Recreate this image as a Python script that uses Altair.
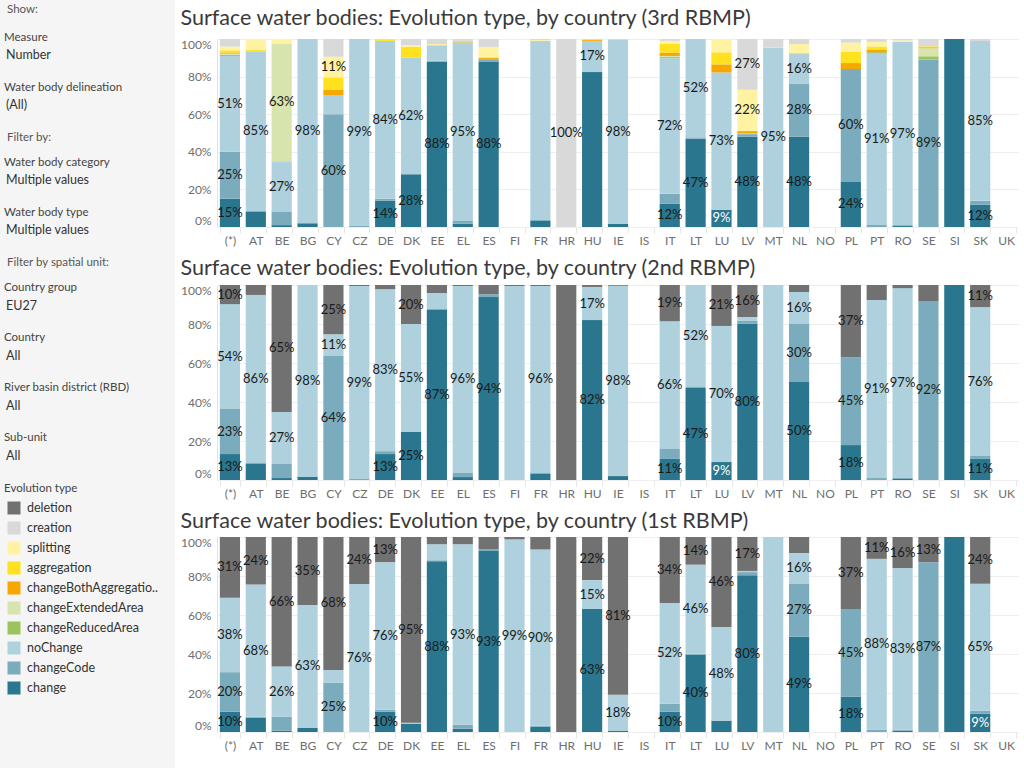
import altair as alt
import pandas as pd

FONT = "Lato"

COUNTRIES = ["(*)", "AT", "BE", "BG", "CY", "CZ", "DE", "DK", "EE", "EL", "ES", "FI", "FR", "HR", "HU",
             "IE", "IS", "IT", "LT", "LU", "LV", "MT", "NL", "NO", "PL", "PT", "RO", "SE", "SI", "SK", "UK"]

# legend order (top of stack first)
TYPES = ["deletion", "creation", "splitting", "aggregation", "changeBothAggregatio..",
         "changeExtendedArea", "changeReducedArea", "noChange", "changeCode", "change"]
COLORS = ["#717171", "#d9d9d9", "#fff3a1", "#ffe11f", "#f6a800",
          "#d8e4ae", "#9bc45c", "#aed1dd", "#7aacbd", "#2a768e"]

Y_TICKS = [0, 0.2, 0.4, 0.6, 0.8, 1.0]

# ---------------- 3rd RBMP (percent of water bodies) ----------------
R3_CHANGE = [15, 8, 1, 2, 0, 0, 14, 28, 88, 1.8, 88, 0, 3.2, 0, 82.4, 1.8, 0, 12.3, 47, 9.2, 48, 0, 48, 0, 24, 0, 0.5, 0, 100, 11.8, 0]
R3_CHANGECODE = [25, 0.5, 7, 0, 60, 0.8, 1.0, 0, 0.5, 1.4, 0.9, 0, 0.5, 0, 0, 0, 0, 5.3, 0.7, 0, 1.4, 0, 28, 0, 60, 1.1, 0.5, 89, 0, 2.1, 0]
R3_NOCHANGE = [51, 85, 27, 98, 10.2, 99.2, 84, 62, 8, 95, 0, 0, 95.2, 0, 16.6, 97.7, 0, 72, 52.3, 73, 0.5, 95.4, 16, 0, 0, 91.4, 97.4, 0, 0, 85, 0]
R3_REDUCED = [0.6, 0, 0, 0, 0, 0, 0, 0, 0, 0, 0.5, 0, 0, 0, 0, 0, 0, 0.6, 0, 0, 0, 0, 0, 0, 0, 0.5, 0, 1.8, 0, 0, 0]
R3_EXTENDED = [0.6, 0, 62.6, 0, 0, 0, 0, 0, 0, 0, 0, 0, 0, 0, 0, 0, 0, 0.6, 0, 0, 0, 0, 0, 0, 0, 0, 0, 4.3, 0, 0, 0]
R3_BOTH = [0.6, 0, 0, 0, 2.7, 0, 0, 0, 0, 0.5, 0.5, 0, 0, 0, 0.5, 0, 0, 1.8, 0, 4.3, 1.1, 0, 0, 0, 3.2, 1.4, 0, 0.5, 0, 0, 0]
R3_AGGREGATION = [1.2, 0.6, 0, 0, 6.6, 0, 0.6, 5.9, 0.4, 0.3, 0.4, 0, 0, 0, 0, 0, 0, 4.6, 0, 6.4, 0, 0, 0.5, 0, 6.1, 1.6, 0, 0.5, 0, 0, 0]
R3_SPLITTING = [2, 5.9, 2.4, 0, 11, 0, 0, 0.7, 0.5, 0, 5.4, 0, 0.5, 0, 0, 0, 0, 1.6, 0, 7.1, 22, 0, 4.8, 0, 4.8, 2.5, 0.9, 0, 0, 0, 0]
R3_CREATION = [4.0, 0, 0, 0, 9.5, 0, 0.4, 3.4, 2.7, 1.0, 4.3, 0, 0.6, 100, 0.5, 0.5, 0, 1, 0, 0, 27, 4.6, 2.7, 0, 1.9, 1.5, 0.7, 3.9, 0, 1.1, 0]

# ---------------- 2nd RBMP ----------------
R2_CHANGE = [13.3, 8.2, 1.0, 1.7, 0, 0, 13.3, 24.6, 87.2, 1.5, 93.8, 0, 3.1, 0, 82, 2.0, 0, 10.8, 47.2, 9.2, 80.3, 0, 50.3, 0, 17.9, 0, 0.5, 0, 100, 10.8, 0]
R2_CHANGECODE = [23.1, 0.5, 7.2, 0, 63.6, 0.5, 1.5, 0, 0.5, 2.1, 1.5, 0, 0.5, 0, 0, 0, 0, 5.1, 0.5, 0, 1.5, 0, 29.7, 0, 45.1, 1.0, 0.5, 91.8, 0, 1.5, 0]
R2_NOCHANGE = [53.8, 86.2, 26.7, 98.3, 11.1, 99, 83.1, 55.4, 8.2, 95.9, 0, 99.5, 95.9, 0, 17, 97.6, 0, 65.5, 52.3, 69.8, 1.8, 100, 16.4, 0, 0, 91.3, 97.4, 0, 0, 76.4, 0]
R2_DELETION = [9.8, 5.1, 65.1, 0, 25.3, 0.5, 2.1, 20, 4.1, 0.5, 4.7, 0.5, 0.5, 100, 1, 0.4, 0, 18.6, 0, 21, 16.4, 0, 3.6, 0, 37, 7.7, 1.6, 8.2, 0, 11.3, 0]

# ---------------- 1st RBMP ----------------
R1_CHANGE = [10.4, 7.3, 0.7, 2.2, 0, 0, 10.4, 4.3, 87.6, 1.7, 92.8, 0, 2.7, 0, 63.1, 0.7, 0, 10.4, 39.6, 5.8, 80.4, 0, 48.8, 0, 18.1, 0, 0.7, 0, 100, 9.4, 0]
R1_CHANGECODE = [20.3, 0.5, 7.2, 0, 25.2, 0, 1.0, 0, 0.5, 2.0, 1.0, 0, 0.5, 0, 0, 0, 0, 4.1, 0.5, 0, 1.6, 0, 27.1, 0, 45, 1.2, 0.5, 87.1, 0, 1.5, 0]
R1_NOCHANGE = [38.1, 67.8, 25.7, 62.9, 6.6, 75.9, 75.7, 0.5, 8.2, 92.6, 0, 98.8, 90.4, 0, 14.8, 18.4, 0, 51.7, 45.7, 48.1, 0.6, 100, 15.9, 0, 0, 87.6, 82.9, 0, 0, 65.1, 0]
R1_DELETION = [31.2, 24.4, 66.4, 34.9, 68.2, 24.1, 12.9, 95.2, 3.7, 3.7, 6.2, 1.2, 6.4, 100, 22.1, 80.9, 0, 33.8, 14.2, 46.1, 17.4, 0, 8.2, 0, 36.9, 11.2, 15.9, 12.9, 0, 24, 0]

# segments that carry a percentage label in the reference
LABELS_R3 = {"(*)": ["change", "changeCode", "noChange"], "AT": ["noChange"], "BE": ["noChange", "changeExtendedArea"],
             "BG": ["noChange"], "CY": ["changeCode", "splitting"], "CZ": ["noChange"], "DE": ["change", "noChange"],
             "DK": ["change", "noChange"], "EE": ["change"], "EL": ["noChange"], "ES": ["change"], "HR": ["creation"],
             "HU": ["noChange"], "IE": ["noChange"], "IT": ["change", "noChange"], "LT": ["change", "noChange"],
             "LU": ["change", "noChange"], "LV": ["change", "splitting", "creation"], "MT": ["noChange"],
             "NL": ["change", "changeCode", "noChange"], "PL": ["change", "changeCode"], "PT": ["noChange"],
             "RO": ["noChange"], "SE": ["changeCode"], "SK": ["change", "noChange"]}
LABELS_R2 = {"(*)": ["change", "changeCode", "noChange", "deletion"], "AT": ["noChange"], "BE": ["noChange", "deletion"],
             "BG": ["noChange"], "CY": ["changeCode", "noChange", "deletion"], "CZ": ["noChange"], "DE": ["change", "noChange"],
             "DK": ["change", "noChange", "deletion"], "EE": ["change"], "EL": ["noChange"], "ES": ["change"],
             "FR": ["noChange"], "HU": ["change", "noChange"], "IE": ["noChange"], "IT": ["change", "noChange", "deletion"],
             "LT": ["change", "noChange"], "LU": ["change", "noChange", "deletion"], "LV": ["change", "deletion"],
             "NL": ["change", "changeCode", "noChange"], "PL": ["change", "changeCode", "deletion"], "PT": ["noChange"],
             "RO": ["noChange"], "SE": ["changeCode"], "SK": ["change", "noChange", "deletion"]}
LABELS_R1 = {"(*)": ["change", "changeCode", "noChange", "deletion"], "AT": ["noChange", "deletion"],
             "BE": ["noChange", "deletion"], "BG": ["noChange", "deletion"], "CY": ["changeCode", "deletion"],
             "CZ": ["noChange", "deletion"], "DE": ["change", "noChange", "deletion"], "DK": ["deletion"], "EE": ["change"],
             "EL": ["noChange"], "ES": ["change"], "FI": ["noChange"], "FR": ["noChange"],
             "HU": ["change", "noChange", "deletion"], "IE": ["noChange", "deletion"], "IT": ["change", "noChange", "deletion"],
             "LT": ["change", "noChange", "deletion"], "LU": ["noChange", "deletion"], "LV": ["change", "deletion"],
             "NL": ["change", "changeCode", "noChange"], "PL": ["change", "changeCode", "deletion"],
             "PT": ["noChange", "deletion"], "RO": ["noChange", "deletion"], "SE": ["changeCode", "deletion"],
             "SK": ["change", "noChange", "deletion"]}
WHITE_R3 = [("LU", "change")]
WHITE_R2 = [("LU", "change")]
WHITE_R1 = [("SK", "change")]

SERIES_R3 = {"change": R3_CHANGE, "changeCode": R3_CHANGECODE, "noChange": R3_NOCHANGE,
             "changeReducedArea": R3_REDUCED, "changeExtendedArea": R3_EXTENDED,
             "changeBothAggregatio..": R3_BOTH, "aggregation": R3_AGGREGATION,
             "splitting": R3_SPLITTING, "creation": R3_CREATION}
SERIES_R2 = {"change": R2_CHANGE, "changeCode": R2_CHANGECODE, "noChange": R2_NOCHANGE, "deletion": R2_DELETION}
SERIES_R1 = {"change": R1_CHANGE, "changeCode": R1_CHANGECODE, "noChange": R1_NOCHANGE, "deletion": R1_DELETION}

STACK_ORDER = list(reversed(TYPES))  # change at bottom


def make_df(series, labels, whites):
    rows = []
    for t, vals in series.items():
        for c, v in zip(COUNTRIES, vals):
            if v > 0:
                rows.append({"country": c, "type": t, "value": v,
                             "order": STACK_ORDER.index(t),
                             "show": t in labels.get(c, []),
                             "white": (c, t) in whites})
    return pd.DataFrame(rows)


XSCALE = alt.Scale(domain=COUNTRIES, paddingInner=0.22, paddingOuter=0.11)
YSCALE = alt.Scale(domain=[0, 1], nice=False)
XAXIS = alt.Axis(title=None, labelAngle=0, labelColor="#6e6e6e", labelFontSize=12, labelFont=FONT,
                 domain=False, ticks=True, tickBand="extent", tickColor="#e6e6e6", tickSize=6,
                 labelPadding=2, grid=False)
YAXIS = alt.Axis(title=None, format=".0%", values=Y_TICKS, labelFlush=True, labelOverlap=False,
                 grid=True, gridColor="#efefef", ticks=False, domain=True, domainColor="#e3e3e3",
                 labelPadding=6, labelColor="#6e6e6e", labelFontSize=12, labelFont=FONT)


def panel(df, title, height, offset):
    base = alt.Chart(df).transform_stack(
        stack="value", groupby=["country"], as_=["y0", "y1"], offset="normalize",
        sort=[alt.SortField("order", order="ascending")]
    )
    bars = base.mark_bar().encode(
        x=alt.X("country:N", scale=XSCALE, axis=XAXIS),
        y=alt.Y("y0:Q", scale=YSCALE, axis=YAXIS),
        y2="y1:Q",
        color=alt.Color("type:N", scale=alt.Scale(domain=TYPES, range=COLORS), legend=None),
    )
    texts = base.transform_filter("datum.show").transform_calculate(
        mid="(datum.y0 + datum.y1) / 2",
        pct="format((datum.y1 - datum.y0) * 100, '.0f') + '%'"
    ).mark_text(fontSize=13, font=FONT, baseline="middle", align="center").encode(
        x=alt.X("country:N", scale=XSCALE, axis=XAXIS),
        y=alt.Y("mid:Q", scale=YSCALE, axis=YAXIS),
        text="pct:N",
        fill=alt.condition("datum.white", alt.value("#ffffff"), alt.value("#1a1a1a")),
    )
    return alt.layer(bars, texts).properties(
        width=802, height=height,
        title=alt.TitleParams(title, anchor="start", fontSize=21.5, font=FONT, fontWeight="normal",
                              color="#3a3a3a", offset=offset),
    )


p3 = panel(make_df(SERIES_R3, LABELS_R3, WHITE_R3),
           "Surface water bodies: Evolution type, by country (3rd RBMP)", 188, 9)
p2 = panel(make_df(SERIES_R2, LABELS_R2, WHITE_R2),
           "Surface water bodies: Evolution type, by country (2nd RBMP)", 195, 5)
p1 = panel(make_df(SERIES_R1, LABELS_R1, WHITE_R1),
           "Surface water bodies: Evolution type, by country (1st RBMP)", 195, 4)

main = alt.vconcat(p3, p2, p1, spacing=11,
                   title=alt.TitleParams(" ", fontSize=1, offset=6))

# ---------------- sidebar (filters + legend) ----------------
SIDEBAR_TEXT = ["Show:", "Measure", "Number", "Water body delineation", "(All)", "Filter by:",
                "Water body category", "Multiple values", "Water body type", "Multiple values",
                "Filter by spatial unit:", "Country group", "EU27", "Country", "All",
                "River basin district (RBD)", "All", "Sub-unit", "All", "Evolution type"]
SIDEBAR_KIND = ["section", "head", "value", "head", "value", "section", "head", "value", "head", "value",
                "section", "head", "value", "head", "value", "head", "value", "head", "value", "head"]
# layout: vertical pixel positions (page coordinates) of the sidebar lines
SIDEBAR_Y = [10, 38, 55, 88, 105, 138, 163, 180, 213, 230, 263, 288, 306, 338, 356, 388, 406, 438, 456, 489]
KIND_X = {"section": 7, "head": 4, "value": 6}
KIND_COLOR = {"section": "#555555", "head": "#444444", "value": "#333333"}
KIND_SIZE = {"section": 11.5, "head": 11.5, "value": 12.5}
LEGEND_Y = [508 + 20 * i for i in range(len(TYPES))]

TOP = 39  # the sidebar's origin is aligned with the first plot's top edge
side_df = pd.DataFrame({"text": SIDEBAR_TEXT, "y": SIDEBAR_Y, "kind": SIDEBAR_KIND})
leg_df = pd.DataFrame({"type": TYPES, "y": LEGEND_Y})
bg_df = pd.DataFrame({"a": [0]})

ys = alt.Scale(domain=[0, 768], range=[-TOP, 768 - TOP])

bg = alt.Chart(bg_df).mark_rect(color="#f5f5f5").encode(
    x=alt.value(0), x2=alt.value(175), y=alt.value(-TOP), y2=alt.value(768 - TOP)
)
side_layers = []
for kind in ["section", "head", "value"]:
    side_layers.append(
        alt.Chart(side_df).transform_filter(alt.datum.kind == kind)
        .mark_text(align="left", baseline="middle", font=FONT, fontSize=KIND_SIZE[kind], color=KIND_COLOR[kind])
        .encode(x=alt.value(KIND_X[kind]), y=alt.Y("y:Q", scale=ys, axis=None), text="text:N")
    )
leg_sq = alt.Chart(leg_df).mark_square(size=169, opacity=1, filled=True).encode(
    x=alt.value(14),
    y=alt.Y("y:Q", scale=ys, axis=None),
    color=alt.Color("type:N", scale=alt.Scale(domain=TYPES, range=COLORS), legend=None),
)
leg_txt = alt.Chart(leg_df).mark_text(align="left", baseline="middle", font=FONT, fontSize=12.5,
                                      color="#333333").encode(
    x=alt.value(27),
    y=alt.Y("y:Q", scale=ys, axis=None),
    text="type:N",
)
sidebar = alt.layer(bg, *side_layers, leg_sq, leg_txt).properties(
    width=175, height=768 - TOP
)

chart = alt.hconcat(sidebar, main, spacing=5).properties(
    padding=0, background="white"
).configure_view(stroke=None)

chart.save("out.html", embed_options={"renderer": "svg", "actions": False})
